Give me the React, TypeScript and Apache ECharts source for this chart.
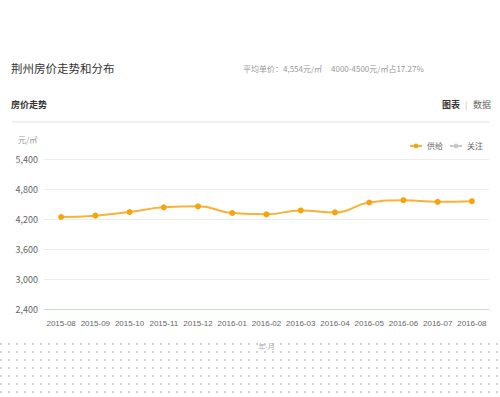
import React, { useEffect, useRef } from "react";
import * as echarts from "echarts";

const months = ["2015-08","2015-09","2015-10","2015-11","2015-12","2016-01","2016-02","2016-03","2016-04","2016-05","2016-06","2016-07","2016-08"];
const supplyPrices = [4240, 4267, 4340, 4433, 4453, 4320, 4293, 4371, 4332, 4530, 4576, 4543, 4556];
const yTicks = { min: 2400, max: 5400, interval: 600 };
const titleText = "荆州房价走势和分布";
const avgText = "平均单价：4,554元/㎡";
const shareText = "4000-4500元/㎡占17.27%";

export default function App() {
  const ref = useRef<HTMLDivElement>(null);
  useEffect(() => {
    if (!ref.current) return;
    const chart = echarts.init(ref.current, null, { renderer: "svg" });
    const font = '"Noto Sans CJK SC", "Noto Sans", sans-serif';
    chart.setOption({
      animation: false,
      textStyle: { fontFamily: font },
      grid: { left: 44, right: 11, top: 159, bottom: 88 },
      legend: {
        right: 12,
        top: 137,
        itemWidth: 12,
        itemHeight: 6,
        itemGap: 6,
        textStyle: { fontSize: 8, color: "#666", fontFamily: font },
        data: ["供给", "关注"],
      },
      graphic: [
        { type: "text", left: 11, top: 62, style: { text: titleText, fontSize: 11.5, fill: "#333", fontFamily: font } },
        { type: "text", left: 243, top: 64, style: { text: avgText, fontSize: 8, fill: "#999", fontFamily: font } },
        { type: "text", left: 331, top: 64, style: { text: shareText, fontSize: 8, fill: "#999", fontFamily: font } },
        { type: "text", left: 11, top: 100, style: { text: "房价走势", fontSize: 9, fontWeight: "bold", fill: "#333", fontFamily: font } },
        { type: "text", left: 442, top: 100, style: { text: "图表", fontSize: 9, fontWeight: "bold", fill: "#333", fontFamily: font } },
        { type: "text", left: 465, top: 100, style: { text: "|", fontSize: 8, fill: "#bbb", fontFamily: font } },
        { type: "text", left: 473, top: 100, style: { text: "数据", fontSize: 9, fill: "#666", fontFamily: font } },
        { type: "line", shape: { x1: 12, y1: 122, x2: 489, y2: 122 }, style: { stroke: "#e2e2e2", lineWidth: 1 } },
        { type: "text", left: 18, top: 135, style: { text: "元/㎡", fontSize: 8, fill: "#999", fontFamily: font } },
      ],
      xAxis: {
        type: "category",
        data: months,
        boundaryGap: true,
        name: "年-月",
        nameLocation: "middle",
        nameGap: 33,
        nameTextStyle: { fontSize: 7, color: "#aaa" },
        axisLine: { lineStyle: { color: "#ccd6eb" } },
        axisTick: { alignWithLabel: true, inside: true, length: 4, lineStyle: { color: "#ccd6eb" } },
        axisLabel: { fontSize: 8, color: "#666", margin: 10, interval: 0, fontFamily: '"Liberation Sans", Arial, sans-serif' },
      },
      yAxis: {
        type: "value",
        min: yTicks.min,
        max: yTicks.max,
        interval: yTicks.interval,
        axisLine: { show: false },
        axisTick: { show: false },
        axisLabel: {
          fontSize: 9,
          color: "#666",
          margin: 6,
          formatter: (v: number) => v.toLocaleString("en-US"),
        },
        splitLine: { lineStyle: { color: "#ececec" } },
      },
      series: [
        {
          name: "供给",
          type: "line",
          smooth: true,
          data: supplyPrices,
          symbol: "circle",
          symbolSize: 6,
          itemStyle: { color: "#F7A30C" },
          lineStyle: { color: "#FAB236", width: 2 },
        },
        {
          name: "关注",
          type: "line",
          data: [],
          symbol: "circle",
          symbolSize: 6,
          itemStyle: { color: "#c8c8c8" },
          lineStyle: { color: "#c8c8c8", width: 2 },
        },
      ],
    });
    return () => chart.dispose();
  }, []);
  return (
    <div style={{ position: "absolute", left: 0, top: 0, width: 500, height: 397, background: "#fff" }}>
      <div
        style={{
          position: "absolute",
          left: 0,
          top: 342,
          width: 500,
          height: 55,
          backgroundImage: "radial-gradient(circle, #d2d2d2 0.7px, transparent 0.9px)",
          backgroundSize: "8px 8px",
          backgroundPosition: "-3px -2px",
        }}
      />
      <div ref={ref} style={{ position: "absolute", left: 0, top: 0, width: 500, height: 397 }} />
    </div>
  );
}
